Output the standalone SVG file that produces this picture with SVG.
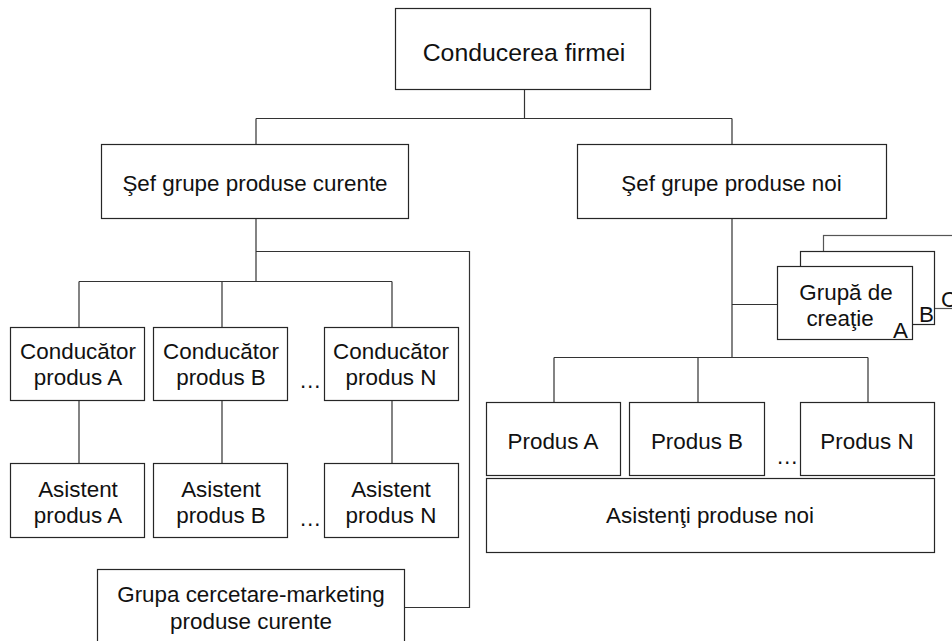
<svg xmlns="http://www.w3.org/2000/svg" width="952" height="641" viewBox="0 0 952 641">
  <style>
    .box { fill: #ffffff; stroke: #262626; stroke-width: 1.2; }
    .box-back { fill: #ffffff; stroke: #555555; stroke-width: 1.2; }
    .wire { fill: none; stroke: #333333; stroke-width: 1.2; }
    text { font-family: "Liberation Sans", Arial, sans-serif; font-size: 22.4px; fill: #111111; text-anchor: middle; }
    .title { font-size: 24.8px; }
    .tag { text-anchor: start; }
  </style>
  <rect width="952" height="641" fill="#ffffff"/>

  <!-- connectors -->
  <g id="connectors">
    <path class="wire" d="M524.5 89 V118.5 M256 118.5 H732 M256 118.5 V144 M732 118.5 V144"/>
    <path class="wire" d="M256 218 V281.5 M256 251.5 H469.5 V607.5 H404"/>
    <path class="wire" d="M79 281.5 H392 M79 281.5 V327 M222 281.5 V327 M392 281.5 V327"/>
    <path class="wire" d="M79 400 V463 M222 400 V463 M392 400 V463"/>
    <path class="wire" d="M732 218 V357.5 M732 304.5 H777 M554 357.5 H868 M554 357.5 V402 M698 357.5 V402 M868 357.5 V402"/>
  </g>

  <g id="conducerea-firmei">
    <rect class="box" x="395.5" y="8.5" width="255" height="81"/>
    <text class="title" x="524" y="61">Conducerea firmei</text>
  </g>

  <g id="sef-curente">
    <rect class="box" x="101.5" y="144.5" width="307" height="74"/>
    <text x="255" y="191">Şef grupe produse curente</text>
  </g>

  <g id="sef-noi">
    <rect class="box" x="577.5" y="144.5" width="309" height="74"/>
    <text x="731.5" y="191">Şef grupe produse noi</text>
  </g>

  <g id="conducator-a">
    <rect class="box" x="10.5" y="327.5" width="134" height="73"/>
    <text x="78" y="359">Conducător</text>
    <text x="78" y="385">produs A</text>
  </g>
  <g id="conducator-b">
    <rect class="box" x="153.5" y="327.5" width="134" height="73"/>
    <text x="221" y="359">Conducător</text>
    <text x="221" y="385">produs B</text>
  </g>
  <g id="conducator-n">
    <rect class="box" x="324.5" y="327.5" width="134" height="73"/>
    <text x="391" y="359">Conducător</text>
    <text x="391" y="385">produs N</text>
  </g>
  <text class="tag" x="299" y="388">…</text>

  <g id="asistent-a">
    <rect class="box" x="10.5" y="463.5" width="134" height="74"/>
    <text x="78" y="497">Asistent</text>
    <text x="78" y="523">produs A</text>
  </g>
  <g id="asistent-b">
    <rect class="box" x="153.5" y="463.5" width="134" height="74"/>
    <text x="221" y="497">Asistent</text>
    <text x="221" y="523">produs B</text>
  </g>
  <g id="asistent-n">
    <rect class="box" x="324.5" y="463.5" width="134" height="74"/>
    <text x="391" y="497">Asistent</text>
    <text x="391" y="523">produs N</text>
  </g>
  <text class="tag" x="299" y="526">…</text>

  <g id="grupa-cercetare">
    <rect class="box" x="97.5" y="569.5" width="307" height="90"/>
    <text x="251" y="602">Grupa cercetare-marketing</text>
    <text x="251" y="629">produse curente</text>
  </g>

  <!-- stacked creative groups C, B, A -->
  <g id="grupa-creatie">
    <rect class="box-back" x="823.5" y="235.5" width="140" height="73"/>
    <text class="tag" x="941" y="307">C</text>
    <rect class="box" x="800.5" y="251.5" width="134" height="73"/>
    <text class="tag" x="919" y="322">B</text>
    <rect class="box" x="777.5" y="266.5" width="135" height="73"/>
    <text x="846" y="300">Grupă de</text>
    <text x="840" y="326">creaţie</text>
    <text class="tag" x="893" y="338">A</text>
  </g>

  <g id="produs-a">
    <rect class="box" x="486.5" y="402.5" width="134" height="73"/>
    <text x="553" y="449">Produs A</text>
  </g>
  <g id="produs-b">
    <rect class="box" x="629.5" y="402.5" width="135" height="73"/>
    <text x="697" y="449">Produs B</text>
  </g>
  <g id="produs-n">
    <rect class="box" x="800.5" y="402.5" width="134" height="73"/>
    <text x="867" y="449">Produs N</text>
  </g>
  <text class="tag" x="776" y="464">…</text>

  <g id="asistenti-noi">
    <rect class="box" x="486.5" y="478.5" width="448" height="74"/>
    <text x="710" y="523">Asistenţi produse noi</text>
  </g>
</svg>
